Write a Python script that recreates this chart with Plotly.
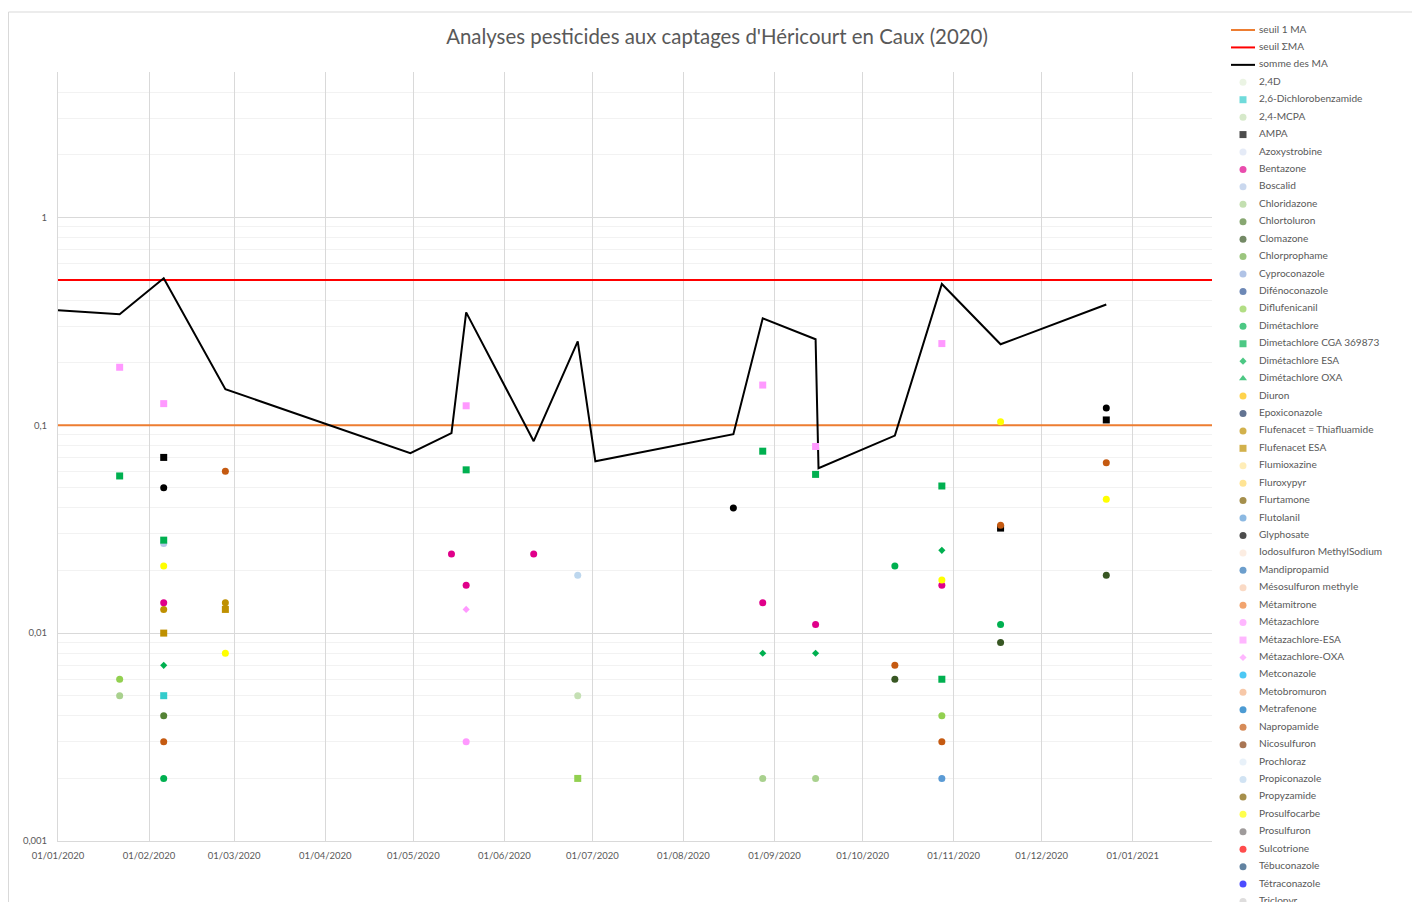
import plotly.graph_objects as go

TITLE = "Analyses pesticides aux captages d'Héricourt en Caux (2020)"

# ---------------- data ----------------
sum_dates = ["2020-01-01", "2020-01-22", "2020-02-06", "2020-02-27", "2020-04-30",
             "2020-05-14", "2020-05-19", "2020-06-11", "2020-06-26", "2020-07-02",
             "2020-08-18", "2020-08-28", "2020-09-15", "2020-09-16", "2020-10-12",
             "2020-10-28", "2020-11-17", "2020-12-23"]
sum_values = [0.357, 0.342, 0.509, 0.149, 0.0733, 0.0916, 0.349, 0.0838, 0.253, 0.0671,
              0.0905, 0.327, 0.259, 0.0621, 0.0891, 0.478, 0.245, 0.381]

threshold_dates = ["2020-01-01", "2021-01-28"]
seuil_1_ma = [0.1, 0.1]
seuil_somme = [0.5, 0.5]

mes_date = [
    "2020-01-22", "2020-01-22", "2020-01-22", "2020-01-22",
    "2020-02-06", "2020-02-06", "2020-02-06", "2020-02-06", "2020-02-06", "2020-02-06", "2020-02-06",
    "2020-02-06", "2020-02-06", "2020-02-06", "2020-02-06", "2020-02-06", "2020-02-06", "2020-02-06",
    "2020-02-27", "2020-02-27", "2020-02-27", "2020-02-27",
    "2020-05-14",
    "2020-05-19", "2020-05-19", "2020-05-19", "2020-05-19", "2020-05-19",
    "2020-06-11",
    "2020-06-26", "2020-06-26", "2020-06-26",
    "2020-08-18",
    "2020-08-28", "2020-08-28", "2020-08-28", "2020-08-28", "2020-08-28",
    "2020-09-15", "2020-09-15", "2020-09-15", "2020-09-15", "2020-09-15",
    "2020-10-12", "2020-10-12", "2020-10-12",
    "2020-10-28", "2020-10-28", "2020-10-28", "2020-10-28", "2020-10-28", "2020-10-28",
    "2020-10-28", "2020-10-28", "2020-10-28",
    "2020-11-17", "2020-11-17", "2020-11-17", "2020-11-17", "2020-11-17",
    "2020-12-23", "2020-12-23", "2020-12-23", "2020-12-23", "2020-12-23",
]
mes_substance = [
    "Métazachlore-ESA", "Dimetachlore CGA 369873", "Diflufenicanil", "Chloridazone",
    "Métazachlore-ESA", "AMPA", "Glyphosate", "Dimetachlore CGA 369873", "Boscalid", "Prosulfocarbe",
    "Bentazone", "Flufenacet = Thiafluamide", "Flufenacet ESA", "Dimétachlore ESA",
    "2,6-Dichlorobenzamide", "Chlortoluron", "Napropamide", "Dimétachlore",
    "Napropamide", "Flufenacet = Thiafluamide", "Flufenacet ESA", "Prosulfocarbe",
    "Bentazone",
    "Métazachlore-ESA", "Dimetachlore CGA 369873", "Bentazone", "Métazachlore-OXA", "Métazachlore",
    "Bentazone",
    "Propiconazole", "2,4-MCPA", "Autre",
    "Glyphosate",
    "Métazachlore-ESA", "Dimetachlore CGA 369873", "Bentazone", "Dimétachlore ESA", "Chloridazone",
    "Métazachlore-ESA", "Dimetachlore CGA 369873", "Bentazone", "Dimétachlore ESA", "Chloridazone",
    "Dimétachlore", "Napropamide", "Clomazone",
    "Métazachlore-ESA", "Dimetachlore CGA 369873", "Dimétachlore ESA", "Prosulfocarbe", "Bentazone",
    "Dimetachlore CGA 369873", "Diflufenicanil", "Napropamide", "Flutolanil",
    "Prosulfocarbe", "Napropamide", "AMPA", "Dimétachlore", "Clomazone",
    "Glyphosate", "AMPA", "Napropamide", "Prosulfocarbe", "Clomazone",
]
mes_value = [
    0.19, 0.057, 0.006, 0.005,
    0.127, 0.07, 0.05, 0.028, 0.027, 0.021, 0.014, 0.013, 0.010, 0.007, 0.005, 0.004, 0.003, 0.002,
    0.06, 0.014, 0.013, 0.008,
    0.024,
    0.124, 0.061, 0.017, 0.013, 0.003,
    0.024,
    0.019, 0.005, 0.002,
    0.04,
    0.156, 0.075, 0.014, 0.008, 0.002,
    0.079, 0.058, 0.011, 0.008, 0.002,
    0.021, 0.007, 0.006,
    0.247, 0.051, 0.025, 0.018, 0.017, 0.006, 0.004, 0.003, 0.002,
    0.104, 0.033, 0.032, 0.011, 0.009,
    0.121, 0.106, 0.066, 0.044, 0.019,
]

legend_names = [
    "2,4D", "2,6-Dichlorobenzamide", "2,4-MCPA", "AMPA", "Azoxystrobine", "Bentazone",
    "Boscalid", "Chloridazone", "Chlortoluron", "Clomazone", "Chlorprophame", "Cyproconazole",
    "Difénoconazole", "Diflufenicanil", "Dimétachlore", "Dimetachlore CGA 369873",
    "Dimétachlore ESA", "Dimétachlore OXA", "Diuron", "Epoxiconazole",
    "Flufenacet = Thiafluamide", "Flufenacet ESA", "Flumioxazine", "Fluroxypyr", "Flurtamone",
    "Flutolanil", "Glyphosate", "Iodosulfuron MethylSodium", "Mandipropamid",
    "Mésosulfuron methyle", "Métamitrone", "Métazachlore", "Métazachlore-ESA",
    "Métazachlore-OXA", "Metconazole", "Metobromuron", "Metrafenone", "Napropamide",
    "Nicosulfuron", "Prochloraz", "Propiconazole", "Propyzamide", "Prosulfocarbe",
    "Prosulfuron", "Sulcotrione", "Tébuconazole", "Tétraconazole", "Triclopyr",
]

# ---------------- styles ----------------
COLORS = {
    "2,4D": "#E2F0D9", "2,6-Dichlorobenzamide": "#33CCCC", "2,4-MCPA": "#C5E0B4",
    "AMPA": "#000000", "Azoxystrobine": "#DAE3F3", "Bentazone": "#E0008A",
    "Boscalid": "#B4C7E7", "Chloridazone": "#A9D18E", "Chlortoluron": "#548235",
    "Clomazone": "#385723", "Chlorprophame": "#70AD47", "Cyproconazole": "#8FAADC",
    "Difénoconazole": "#2F5597", "Diflufenicanil": "#92D050", "Dimétachlore": "#00B050",
    "Dimetachlore CGA 369873": "#00B050", "Dimétachlore ESA": "#00B050",
    "Dimétachlore OXA": "#00B050", "Diuron": "#FFC000", "Epoxiconazole": "#203864",
    "Flufenacet = Thiafluamide": "#BF9000", "Flufenacet ESA": "#BF9000",
    "Flumioxazine": "#FFE699", "Fluroxypyr": "#FFD966", "Flurtamone": "#7F6000",
    "Flutolanil": "#5B9BD5", "Glyphosate": "#000000", "Iodosulfuron MethylSodium": "#FBE5D6",
    "Mandipropamid": "#2E75B6", "Mésosulfuron methyle": "#F8CBAD", "Métamitrone": "#ED7D31",
    "Métazachlore": "#FF99FF", "Métazachlore-ESA": "#FF99FF", "Métazachlore-OXA": "#FF99FF",
    "Metconazole": "#00B0F0", "Metobromuron": "#F4B183", "Metrafenone": "#0070C0",
    "Napropamide": "#C55A11", "Nicosulfuron": "#843C0C", "Prochloraz": "#DEEBF7",
    "Propiconazole": "#BDD7EE", "Propyzamide": "#806000", "Prosulfocarbe": "#FFFF00",
    "Prosulfuron": "#767171", "Sulcotrione": "#FF0000", "Tébuconazole": "#1F4E79",
    "Tétraconazole": "#0000FF", "Triclopyr": "#D0CECE", "Autre": "#92D050",
}
SQUARES = {"2,6-Dichlorobenzamide", "AMPA", "Dimetachlore CGA 369873", "Flufenacet ESA",
           "Métazachlore-ESA", "Autre"}
DIAMONDS = {"Dimétachlore ESA", "Métazachlore-OXA"}
TRIANGLES = {"Dimétachlore OXA"}


def symbol_of(name):
    if name in SQUARES:
        return "square"
    if name in DIAMONDS:
        return "diamond"
    if name in TRIANGLES:
        return "triangle-up"
    return "circle"


def size_of(name):
    s = symbol_of(name)
    return {"square": 7, "diamond": 5.5, "triangle-up": 7}.get(s, 7)


# The page body adds an 8px margin; figure is sized/positioned so that screen
# coordinates match the reference picture.
OX, OY = 8, 8
W, H = 1412, 894
PL, PR, PT, PB = 58, 1212, 72, 841  # plot area in screen px
TXT = "#595959"
FONT = "Lato, 'Open Sans', sans-serif"
GRID = "#D9D9D9"


def px(sx):
    return (sx - OX) / W


def py(sy):
    return 1 - (sy - OY) / H


fig = go.Figure()

# threshold and sum lines
fig.add_trace(go.Scatter(x=threshold_dates, y=seuil_1_ma, mode="lines", name="seuil 1 MA",
                         line=dict(color="#ED7D31", width=2), showlegend=False, hoverinfo="skip"))
fig.add_trace(go.Scatter(x=threshold_dates, y=seuil_somme, mode="lines", name="seuil ΣMA",
                         line=dict(color="#FF0000", width=2), showlegend=False, hoverinfo="skip"))
fig.add_trace(go.Scatter(x=sum_dates, y=sum_values, mode="lines", name="somme des MA",
                         line=dict(color="#000000", width=2), showlegend=False))

# substance markers
order = legend_names + ["Autre"]
for name in order:
    xs = [d for d, s in zip(mes_date, mes_substance) if s == name]
    ys = [v for v, s in zip(mes_value, mes_substance) if s == name]
    if not xs:
        continue
    fig.add_trace(go.Scatter(
        x=xs, y=ys, mode="markers", name=name, showlegend=False,
        marker=dict(symbol=symbol_of(name), size=size_of(name), color=COLORS[name],
                    line=dict(width=0)),
    ))

# ---------------- custom legend (pixel overlay axes) ----------------
ROW0, ROWH = 30.0, 17.43
line_entries = [("seuil 1 MA", "#ED7D31"), ("seuil ΣMA", "#FF0000"), ("somme des MA", "#000000")]
rows = [ROW0 + i * ROWH for i in range(len(line_entries) + len(legend_names))]
for i, (nm, col) in enumerate(line_entries):
    fig.add_trace(go.Scatter(x=[1231, 1255], y=[rows[i], rows[i]], mode="lines",
                             line=dict(color=col, width=2), xaxis="x2", yaxis="y2",
                             showlegend=False, hoverinfo="skip"))
mrows = rows[len(line_entries):]
fig.add_trace(go.Scatter(
    x=[1243] * len(legend_names), y=mrows, mode="markers", xaxis="x2", yaxis="y2",
    marker=dict(symbol=[symbol_of(n) for n in legend_names],
                size=[size_of(n) for n in legend_names],
                color=[COLORS[n] for n in legend_names], line=dict(width=0)),
    showlegend=False, hoverinfo="skip", cliponaxis=False))
fig.add_trace(go.Scatter(
    x=[1259] * len(rows), y=rows, mode="text", xaxis="x2", yaxis="y2",
    text=[e[0] for e in line_entries] + legend_names, textposition="middle right",
    textfont=dict(family=FONT, size=10.1, color=TXT),
    showlegend=False, hoverinfo="skip", cliponaxis=False))

# minor gridlines for log axis
minor_vals = []
for e in [-3, -2, -1, 0]:
    for k in range(2, 10):
        v = k * 10 ** e
        if v <= 5:
            minor_vals.append(v)

fig.update_layout(
    width=W, height=H,
    margin=dict(l=0, r=0, t=0, b=0, autoexpand=False),
    paper_bgcolor="white", plot_bgcolor="rgba(0,0,0,0)",
    font=dict(family=FONT, color=TXT),
    title=dict(text=TITLE, x=px(717), xanchor="center", y=py(37), yanchor="middle",
               xref="paper", yref="paper",
               font=dict(family=FONT, size=20.4, color=TXT)),
    showlegend=False,
    xaxis=dict(
        domain=[px(PL), px(PR)], anchor="y",
        type="date", range=["2020-01-01", "2021-01-28"],
        tick0="2020-01-01", dtick="M1", tickformat="%d/%m/%Y",
        showgrid=True, gridcolor=GRID, gridwidth=1,
        showline=True, linecolor=GRID, linewidth=1, zeroline=False,
        ticks="", ticklabelstandoff=6, automargin=False,
        tickfont=dict(family=FONT, size=9.5, color=TXT),
    ),
    yaxis=dict(
        domain=[py(PB), py(PT)], anchor="x",
        type="log", range=[-3, 0.69897],
        tickmode="array", tickvals=[0.001, 0.01, 0.1, 1], ticktext=["0,001", "0,01", "0,1", "1"],
        showgrid=True, gridcolor=GRID, gridwidth=1,
        minor=dict(tickmode="array", tickvals=minor_vals, showgrid=True,
                   gridcolor="#F2F2F2", gridwidth=1, ticks=""),
        showline=True, linecolor=GRID, linewidth=1, zeroline=False,
        ticks="", ticklabelstandoff=8, automargin=False,
        tickfont=dict(family=FONT, size=9.5, color=TXT),
    ),
    xaxis2=dict(domain=[0, 1], range=[OX, OX + W], visible=False, anchor="y2", fixedrange=True),
    yaxis2=dict(domain=[0, 1], range=[OY + H, OY], visible=False, anchor="x2", fixedrange=True),
    shapes=[
        dict(type="line", xref="paper", yref="paper", x0=px(8.5), x1=1.0, y0=py(12), y1=py(12),
             line=dict(color=GRID, width=1)),
        dict(type="line", xref="paper", yref="paper", x0=px(8.5), x1=px(8.5), y0=0, y1=py(12),
             line=dict(color=GRID, width=1)),
    ],
)

fig.write_html("out.html")
